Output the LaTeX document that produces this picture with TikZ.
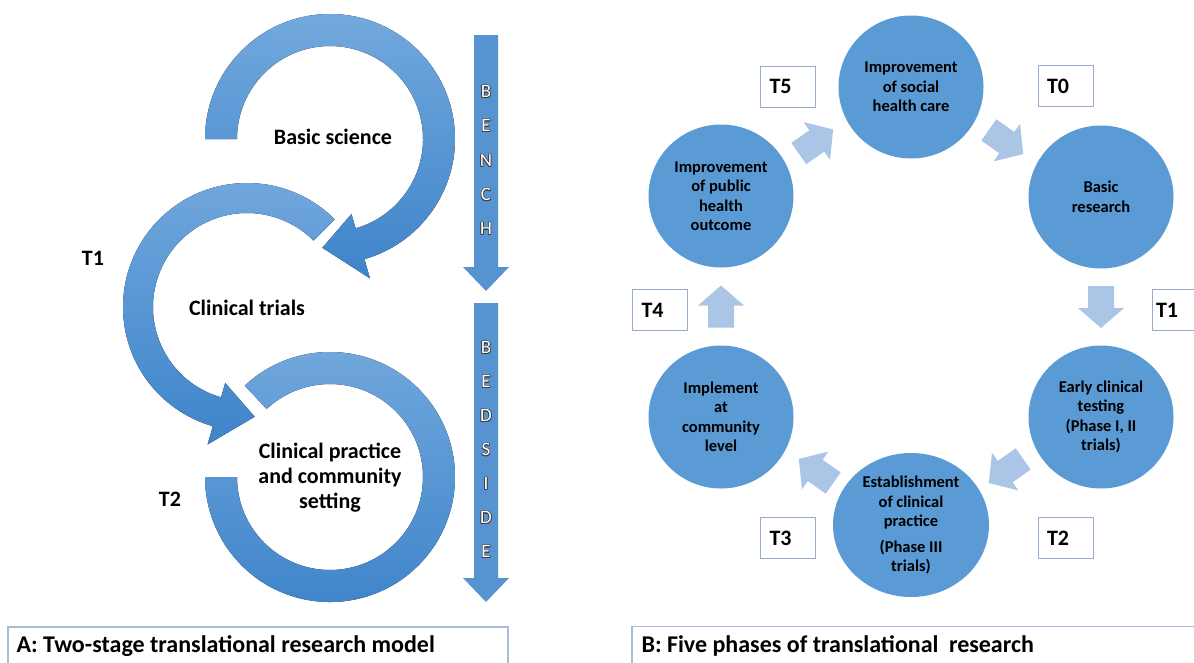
\documentclass[tikz,border=0pt]{standalone}
\usepackage{fontspec}
\setmainfont{Carlito}
\setsansfont{Carlito}
\usepackage{contour}
\contourlength{0.6pt}
\usetikzlibrary{calc,shapes.geometric}
\definecolor{ringlight}{RGB}{114,168,221}
\definecolor{ringdark}{RGB}{62,132,202}
\definecolor{circ}{RGB}{91,155,213}
\definecolor{lightarr}{RGB}{170,197,229}
\definecolor{boxline}{RGB}{150,172,205}
\definecolor{capline}{RGB}{165,188,220}
\definecolor{bencharr}{RGB}{86,147,208}
\tikzset{
  ring/.style={top color=ringlight, bottom color=ringdark, draw=none},
  phase/.style={ellipse, fill=circ, minimum width=145pt, minimum height=143pt, inner sep=0pt, align=center,
    font=\bfseries\fontsize{16.5}{19.5}\selectfont},
  tlab/.style={draw=boxline, line width=1pt, fill=white, text width=37pt, inner xsep=9pt, minimum height=41pt,
    inner ysep=0pt, align=left, font=\bfseries\fontsize{22}{24}\selectfont},
  alab/.style={font=\bfseries\fontsize{22}{24}\selectfont},
  ringtext/.style={align=center, font=\bfseries\fontsize{22}{25}\selectfont},
  vlet/.style={font=\fontsize{19}{19}\selectfont, text=white},
  caption/.style={draw=capline, line width=1.2pt, fill=white},
  captext/.style={anchor=west, font=\bfseries\fontsize{24}{26}\selectfont},
}
\newcommand{\blockarrow}[3]{%
  \begin{scope}[shift={($(#1)!0.5!(#2)$)}, rotate=#3]
    \fill[lightarr] (-21,-13) -- (1,-13) -- (1,-23) -- (21,0) -- (1,23) -- (1,13) -- (-21,13) -- cycle;
  \end{scope}}
\newcommand{\vletter}[3]{\node[vlet] (#1) at (486,-#2) {\contour{black!75}{#3}};}
\begin{document}
\begin{tikzpicture}[x=1pt,y=1pt]
\useasboundingbox (0,0) rectangle (1194,-662);
\fill[white] (0,0) rectangle (1194,-662);

% ---------------- Panel A ----------------
\coordinate (cA) at (330,-139);
\coordinate (cB) at (247,-307);
\coordinate (cC) at (330,-477);

\fill[ring] ($(cA)+(180:125)$) arc[start angle=180, end angle=-74, radius=125]
  -- ($(cA)+(-74:145)$) -- ($(cA)+(-94:109)$) -- ($(cA)+(-74:78)$) -- ($(cA)+(-74:93)$)
  arc[start angle=-74, end angle=180, radius=93] -- cycle;

\fill[ring] ($(cB)+(45:124)$) arc[start angle=45, end angle=254, radius=124]
  -- ($(cB)+(254:143)$) -- ($(cB)+(274:110)$) -- ($(cB)+(254:79)$) -- ($(cB)+(254:94)$)
  arc[start angle=254, end angle=45, radius=94] -- cycle;

\fill[ring] ($(cC)+(133:125)$) arc[start angle=133, end angle=-180, radius=125]
  -- ($(cC)+(180:93)$) arc[start angle=-180, end angle=133, radius=93] -- cycle;

\node[ringtext] (basic) at (333,-137) {Basic science};
\node[ringtext] (trials) at (247,-308) {Clinical trials};
\node[ringtext] (practice) at (330,-478) {Clinical practice\\and community\\setting};
\node[alab] (aT1) at (93,-258) {T1};
\node[alab] (aT2) at (170,-499) {T2};

% bench / bedside arrows
\fill[bencharr] (474,-35) -- (498,-35) -- (498,-267) -- (509,-267) -- (486,-291) -- (463,-267) -- (474,-267) -- cycle;
\fill[bencharr] (474,-303) -- (498,-303) -- (498,-578) -- (509,-578) -- (486,-602) -- (463,-578) -- (474,-578) -- cycle;
\vletter{b1}{92}{B}
\vletter{b2}{126}{E}
\vletter{b3}{161}{N}
\vletter{b4}{195}{C}
\vletter{b5}{229}{H}
\vletter{s1}{348}{B}
\vletter{s2}{382}{E}
\vletter{s3}{416}{D}
\vletter{s4}{450}{S}
\vletter{s5}{484}{I}
\vletter{s6}{518}{D}
\vletter{s7}{552}{E}

% caption A
\draw[caption] (8,-627) rectangle (508,-680);
\node[captext] (capA) at (13,-646) {A: Two-stage translational research model};

% ---------------- Panel B ----------------
\node[phase] (social) at (911,-87) {Improvement\\of social\\health care};
\node[phase] (public) at (721,-196) {Improvement\\of public\\health\\outcome};
\node[phase] (basicr) at (1101,-197) {Basic\\research};
\node[phase] (early) at (1101,-417) {Early clinical\\testing\\(Phase I, II\\trials)};
\node[phase, minimum width=156pt, minimum height=144pt] (estab) at (911,-525) {Establishment\\of clinical\\practice\\[6pt](Phase III\\trials)};
\node[phase] (implement) at (721,-417) {Implement\\at\\community\\level};

\blockarrow{public}{social}{35}
\blockarrow{social}{basicr}{-35}
\blockarrow{basicr}{early}{-90}
\blockarrow{early}{estab}{215}
\blockarrow{estab}{implement}{145}
\blockarrow{implement}{public}{90}

\node[tlab] (T5) at (788,-86.5) {T5};
\node[tlab] (T0) at (1065.5,-86) {T0};
\node[tlab, inner xsep=4pt, text width=52pt] (T1) at (1182,-310) {T1};
\node[tlab] (T4) at (660,-310) {T4};
\node[tlab] (T3) at (788,-538) {T3};
\node[tlab] (T2) at (1065.5,-538) {T2};

% caption B
\draw[caption] (632,-626.5) rectangle (1210,-680);
\node[captext] (capB) at (638,-646) {B: Five phases of translational\hspace{5pt} research};
\end{tikzpicture}
\end{document}
